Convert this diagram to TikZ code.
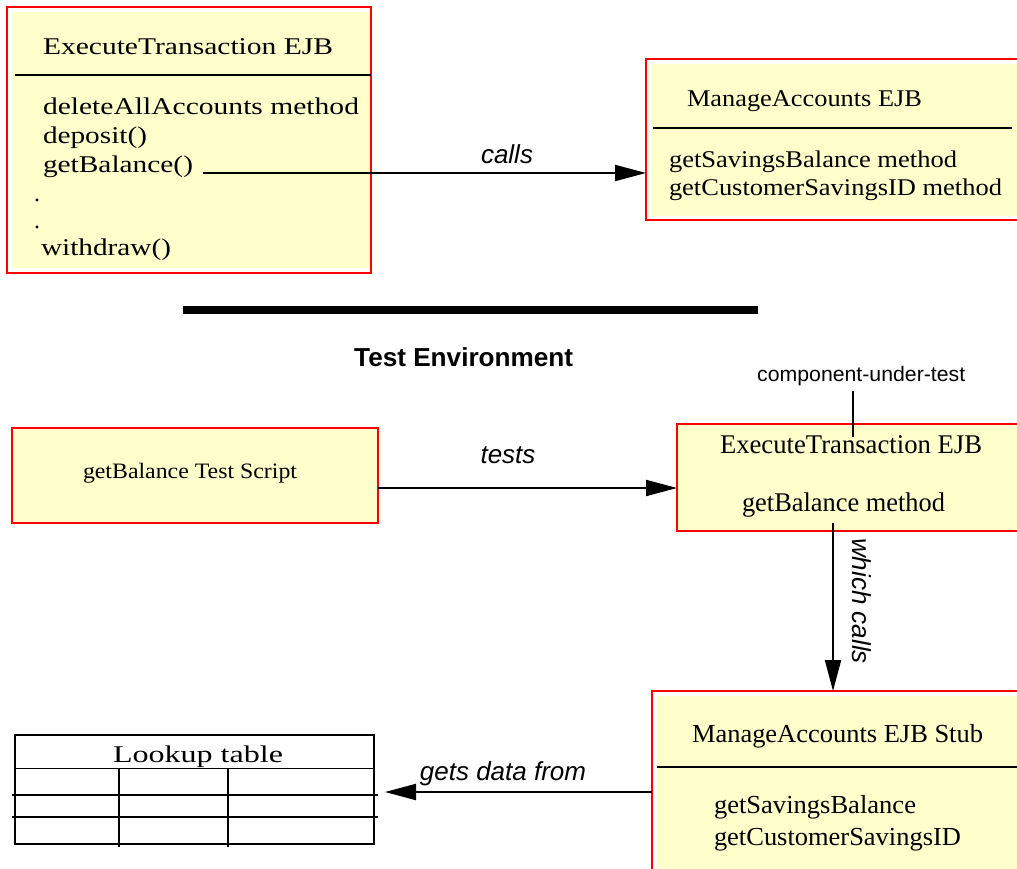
\documentclass[tikz,border=0pt]{standalone}
\usepackage{fontspec}
\setmainfont{Liberation Serif}
\setsansfont{Liberation Sans}
\usepackage{graphicx}
\usetikzlibrary{arrows.meta,calc}
\definecolor{boxfill}{HTML}{FFFFCC}
\definecolor{boxred}{HTML}{FF0000}
\newcommand\fitw[2]{\resizebox{#1}{\height}{#2}}
\begin{document}
\begin{tikzpicture}[x=1pt,y=-1pt,
  redbox/.style={draw=boxred, line width=2.5pt, fill=white, inner sep=0pt, outer sep=0pt, anchor=north west},
  serif/.style={anchor=base west, inner sep=0pt, outer sep=0pt, font=\fontsize{#1}{#1}\selectfont},
  lab/.style={inner sep=0pt, outer sep=0pt, font=\fontsize{26}{26}\selectfont\sffamily\itshape},
  sep/.style={line width=2pt},
  arr/.style={line width=2pt, -{Triangle[length=31pt,width=16pt]}},
  grid/.style={line width=1.6pt}
]
\useasboundingbox (0,0) rectangle (1017,869);
\clip (0,0) rectangle (1017,869);

% ---------- top-left box ----------
\node[redbox, minimum width=364pt, minimum height=266pt] (et) at (7,7) {};
\fill[boxfill] ($(et.north west)+(5,5)$) rectangle ($(et.south east)+(-1.3,-5)$);
\draw[sep] (15,75) -- (371,75);
\node[serif=24] (etT) at (43,55) {\fitw{290pt}{ExecuteTransaction EJB}};
\node[serif=24] (etA) at (43,115) {\fitw{316pt}{deleteAllAccounts method}};
\node[serif=24] (etB) at (43,144) {\fitw{104pt}{deposit()}};
\node[serif=24] (gb) at (43,173) {\fitw{150pt}{getBalance()}};
\node[serif=24] (d1) at (34,201) {.};
\node[serif=24] (d2) at (34,229) {.};
\node[serif=24] (etW) at (41,255) {\fitw{130pt}{withdraw()}};

% ---------- top-right box ----------
\node[redbox, minimum width=390pt, minimum height=161pt] (ma) at (646,59) {};
\fill[boxfill] ($(ma.north west)+(5,5)$) rectangle ($(ma.south east)+(0,-4)$);
\draw[sep] (653,128) -- (1012,128);
\node[serif=24] (maT) at (687,107) {\fitw{235pt}{ManageAccounts EJB}};
\node[serif=24] (maA) at (669,168) {\fitw{288pt}{getSavingsBalance method}};
\node[serif=24] (maB) at (669,196) {\fitw{333pt}{getCustomerSavingsID method}};

\draw[arr] ([xshift=10pt]gb.base east) -- (ma.west |- gb.base);
\node[lab, anchor=base] (calls) at (507,164) {calls};

% ---------- divider ----------
\draw[line width=8pt] (183,310) -- (758,310);
\node[anchor=base west, inner sep=0pt, font=\fontsize{26}{26}\selectfont\sffamily\bfseries] (te) at (354,366) {\fitw{219pt}{Test Environment}};

% ---------- test script ----------
\node[redbox, fill=boxfill, minimum width=366pt, minimum height=95pt] (ts) at (12,428) {};
\node[serif=22] (tsT) at (83,478) {\fitw{214pt}{getBalance Test Script}};

% ---------- component under test ----------
\node[redbox, fill=boxfill, minimum width=360pt, minimum height=107pt] (cut) at (677,424) {};
\node[serif=27] (cutT) at (720,453) {\fitw{262pt}{ExecuteTransaction EJB}};
\node[serif=27] (cutA) at (742,511) {\fitw{203pt}{getBalance method}};
\node[anchor=base west, inner sep=0pt, font=\fontsize{21}{21}\selectfont\sffamily] (cutL) at (757,381) {\fitw{208pt}{component-under-test}};
\coordinate (cutTop) at (853,437);
\draw[line width=2pt] ([yshift=-5pt]cutL.south -| cutTop) -- (cutTop);

\coordinate (tsOut) at (378,488);
\draw[arr] (ts.east |- tsOut) -- (cut.west |- tsOut);
\node[lab, anchor=base] (tests) at (508,463) {tests};

% ---------- stub ----------
\node[redbox, minimum width=390pt, minimum height=200pt] (stub) at (652,691) {};
\fill[boxfill] ($(stub.north west)+(5,5)$) rectangle ($(stub.south east)$);
\draw[sep] (657,767) -- (1017,767);
\node[serif=26] (stT) at (692,742) {\fitw{291pt}{ManageAccounts EJB Stub}};
\node[serif=26] (stA) at (714,813) {\fitw{202pt}{getSavingsBalance}};
\node[serif=26] (stB) at (714,845) {\fitw{247pt}{getCustomerSavingsID}};

\coordinate (wcStart) at (833,523);
\draw[arr] (wcStart) -- (wcStart |- stub.north);
\node[lab, rotate=-90] (wc) at (862,601) {which calls};

% ---------- lookup table ----------
\node[draw, grid, inner sep=0pt, outer sep=0pt, anchor=north west, minimum width=359pt, minimum height=109pt] (lt) at (15,735) {};
\draw[line width=1pt] (15,768) -- (374,768);
\draw[grid] (12,795) -- (378,795);
\draw[grid] (12,817) -- (378,817);
\draw[grid] (119,768) -- (119,847);
\draw[grid] (228,768) -- (228,847);
\node[serif=24] (ltT) at (113,762) {\fitw{170pt}{Lookup table}};

\coordinate (gdEnd) at (385,792);
\draw[arr] (stub.west |- gdEnd) -- (gdEnd);
\node[lab, anchor=base] (gd) at (503,780) {gets data from};
\end{tikzpicture}
\end{document}
